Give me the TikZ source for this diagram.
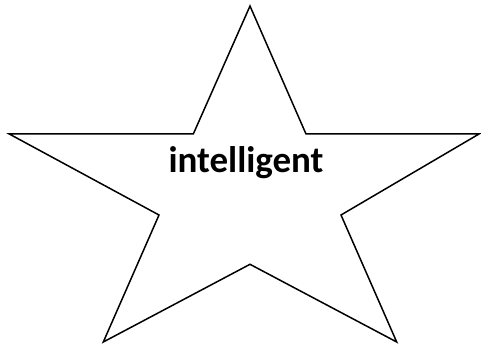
\documentclass[tikz,border=0pt]{standalone}
\usepackage{fontspec}
\setmainfont{Carlito}
\begin{document}
\begin{tikzpicture}[x=1pt,y=-1pt,
  starline/.style={draw=black,line width=1.5pt,line join=miter},
  label/.style={font=\bfseries\fontsize{37}{40}\selectfont,inner sep=0pt}]
\useasboundingbox (0,0) rectangle (481,344);
\draw[starline] (250,6) -- (306,134) -- (479,134) -- (341,215) -- (396.7,342)
  -- (250,264.3) -- (103.3,342) -- (159,215) -- (9.3,134) -- (193.3,134) -- cycle;
\node[label,anchor=base] (t) at (246,173) {intelligent};
\end{tikzpicture}
\end{document}
